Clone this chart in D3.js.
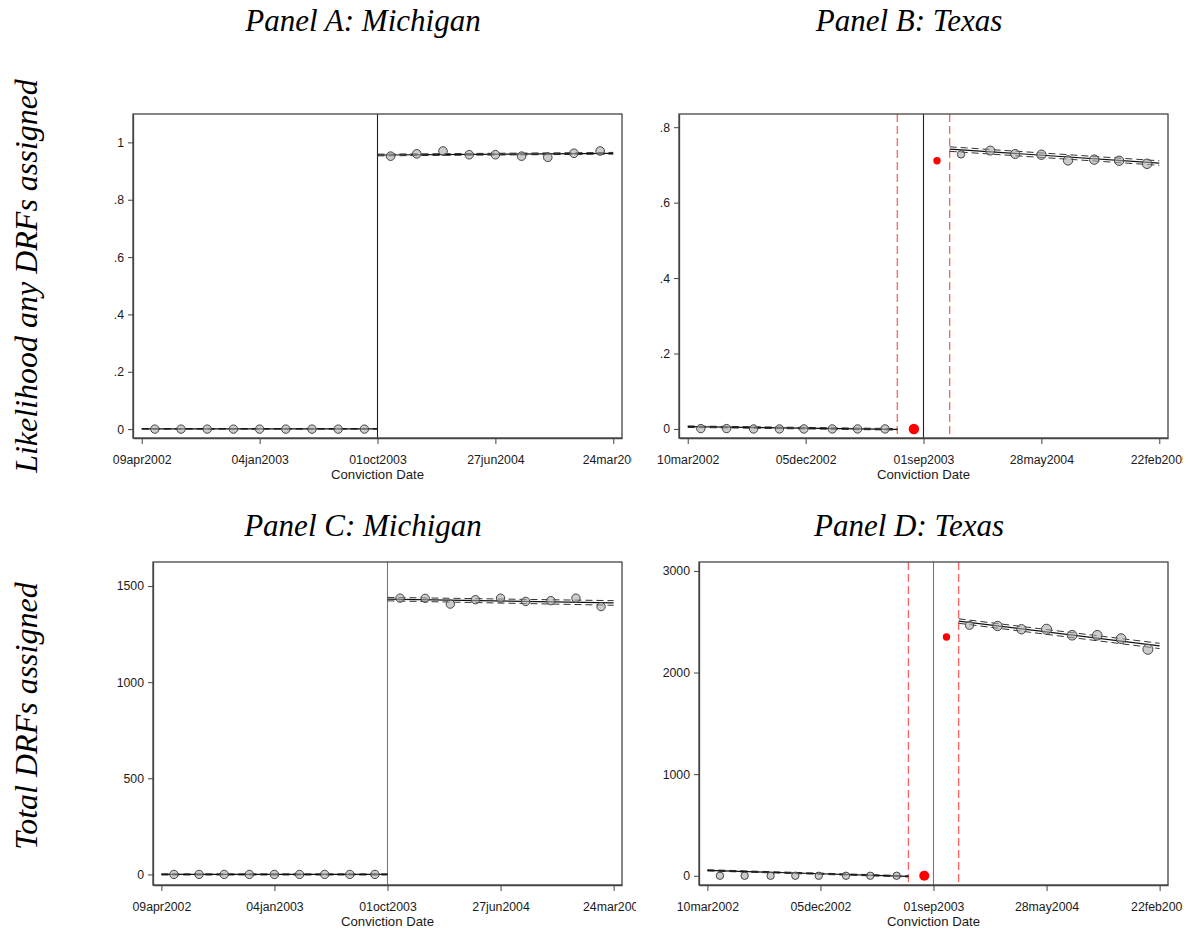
<!DOCTYPE html>
<html>
<head>
<meta charset="utf-8">
<script src="https://cdn.jsdelivr.net/npm/d3@7/dist/d3.min.js"></script>
<style>
  body { margin: 0; background: #fff; }
  .ttl { font-family: "Liberation Serif", "Times New Roman", serif; font-style: italic; font-size: 31px; fill: #000; }
  .rowttl { font-size: 32px; }
</style>
</head>
<body>
<svg id="chart" width="1193" height="929"></svg>
<script>
// x is days relative to the cutoff date, bins are 60 days wide
var tickDays = [-540, -270, 0, 270, 540];
var michiganTicks = ["09apr2002", "04jan2003", "01oct2003", "27jun2004", "24mar2005"];
var texasTicks = ["10mar2002", "05dec2002", "01sep2003", "28may2004", "22feb2005"];

var miPreX = [-510, -450, -390, -330, -270, -210, -150, -90, -30];
var miPostX = [30, 90, 150, 210, 270, 330, 390, 450, 510];
var txPreX = [-510, -451, -389, -330, -274, -209, -151, -88];
var txDonutX = [-22, 31];
var txPostX = [86, 153, 210, 270, 331, 391, 448, 512];

// Panel A
var aPreY = [0, 0, 0, 0, 0, 0, 0, 0, 0];
var aPostY = [0.952, 0.960, 0.970, 0.957, 0.957, 0.952, 0.948, 0.962, 0.970];
var aPreN = [36, 36, 36, 36, 36, 36, 36, 36, 36];
var aPostN = [38, 38, 38, 38, 38, 38, 38, 38, 38];
// rows: [day, fit, lower, upper]
var aPreFit = [[-540, 0.001, 0.000, 0.002], [0, 0.001, 0.000, 0.002]];
var aPostFit = [[0, 0.956, 0.953, 0.959], [540, 0.962, 0.959, 0.965]];

// Panel B
var bPreY = [0.001, 0.001, 0, 0, 0, 0, 0, 0];
var bDonutY = [0, 0.711];
var bPostY = [0.728, 0.738, 0.729, 0.727, 0.712, 0.714, 0.711, 0.703];
var bPreN = [36, 36, 36, 36, 36, 36, 36, 36];
var bDonutN = [56, 28];
var bPostN = [28, 42, 42, 45, 45, 45, 45, 46];
var bPreFit = [[-540, 0.006, 0.004, 0.008], [-60, -0.001, -0.003, 0.001]];
var bPostFit = [[60, 0.742, 0.736, 0.748], [540, 0.705, 0.699, 0.711]];

// Panel C
var cPreY = [0, 0, 0, 0, 0, 0, 0, 0, 0];
var cPostY = [1437, 1436, 1406, 1429, 1437, 1420, 1424, 1437, 1393];
var cPreN = [36, 36, 36, 36, 36, 36, 36, 36, 36];
var cPostN = [36, 36, 36, 36, 36, 36, 36, 36, 36];
var cPreFit = [[-540, 0, -3, 3], [0, 0, -3, 3]];
var cPostFit = [[0, 1432, 1423, 1441], [540, 1412, 1400, 1424]];

// Panel D
var dPreY = [0, 0, 0, 0, 0, 0, 0, 0];
var dDonutY = [0, 2350];
var dPostY = [2465, 2458, 2426, 2426, 2367, 2367, 2334, 2229];
var dPreN = [28, 28, 28, 28, 28, 28, 28, 28];
var dDonutN = [52, 28];
var dPostN = [33, 45, 45, 52, 48, 48, 48, 52];
var dPreFit = [[-540, 53, 47, 59], [-60, -6, -12, 0]];
var dPostFit = [[60, 2507, 2485, 2529], [540, 2262, 2236, 2288]];

var svg = d3.select("#chart");
var defs = svg.append("defs");
var rScale = d3.scaleSqrt().domain([0, 60]).range([0, 5.4]);
var sans = "'Liberation Sans', Arial, sans-serif";

function fracFmt(d) {
  return d === 0 ? "0" : String(d).replace(/^0/, "");
}

function zip(xs, ys, ns) {
  return xs.map(function(x, i) { return {x: x, y: ys[i], n: ns[i]}; });
}

function drawPanel(p) {
  defs.append("clipPath").attr("id", p.id)
    .append("rect").attr("x", p.clip[0]).attr("y", 0)
    .attr("width", p.clip[1] - p.clip[0]).attr("height", 929);

  var g = svg.append("g").attr("clip-path", "url(#" + p.id + ")");

  var x = d3.scaleLinear().domain([-560, 560]).range([p.left, p.right]);
  var y = d3.scaleLinear().domain(p.yDomain).range([p.bottom, p.top]);

  // cutoff + donut bounds
  g.append("line")
    .attr("x1", x(0)).attr("x2", x(0)).attr("y1", p.top).attr("y2", p.bottom)
    .attr("stroke", p.cutColor).attr("stroke-width", 1.1);
  if (p.donut) {
    [-60, 60].forEach(function(d) {
      g.append("line")
        .attr("x1", x(d)).attr("x2", x(d)).attr("y1", p.top).attr("y2", p.bottom)
        .attr("stroke", "#ff4848").attr("stroke-width", 1.3)
        .attr("stroke-dasharray", "8,4").attr("stroke-opacity", 0.85);
    });
  }

  // fitted lines with CI
  var fitLine = function(k) {
    return d3.line().x(function(r) { return x(r[0]); }).y(function(r) { return y(r[k]); });
  };
  [p.preFit, p.postFit].forEach(function(rows) {
    [2, 3].forEach(function(k) {
      g.append("path").attr("d", fitLine(k)(rows))
        .attr("fill", "none").attr("stroke", "#333").attr("stroke-width", 1)
        .attr("stroke-dasharray", "7,4");
    });
    g.append("path").attr("d", fitLine(1)(rows))
      .attr("fill", "none").attr("stroke", "#111").attr("stroke-width", 1.2);
  });

  // binned means
  var pts = zip(p.preX, p.preY, p.preN).concat(zip(p.postX, p.postY, p.postN));
  g.selectAll(".pt").data(pts).enter().append("circle")
    .attr("class", "pt")
    .attr("cx", function(d) { return x(d.x); })
    .attr("cy", function(d) { return y(d.y); })
    .attr("r", function(d) { return rScale(d.n); })
    .attr("fill", "#aaaaaa").attr("fill-opacity", 0.6)
    .attr("stroke", "#444").attr("stroke-width", 1);

  if (p.donut) {
    g.selectAll(".dn").data(zip(txDonutX, p.donutY, p.donutN)).enter().append("circle")
      .attr("class", "dn")
      .attr("cx", function(d) { return x(d.x); })
      .attr("cy", function(d) { return y(d.y); })
      .attr("r", function(d) { return rScale(d.n); })
      .attr("fill", "#ff0000");
  }

  // frame
  g.append("rect")
    .attr("x", p.left).attr("y", p.top)
    .attr("width", p.right - p.left).attr("height", p.bottom - p.top)
    .attr("fill", "none").attr("stroke", "#444").attr("stroke-width", 1.3);

  var yAxis = d3.axisLeft(y).tickValues(p.yTicks).tickFormat(p.yFormat)
    .tickSize(5).tickSizeOuter(0).tickPadding(4);
  var ya = g.append("g").attr("transform", "translate(" + p.left + ",0)").call(yAxis);

  var xAxis = d3.axisBottom(x).tickValues(tickDays)
    .tickFormat(function(d, i) { return p.xLabels[i]; })
    .tickSize(6).tickSizeOuter(0).tickPadding(11);
  var xa = g.append("g").attr("transform", "translate(0," + p.bottom + ")").call(xAxis);

  [ya, xa].forEach(function(a) {
    a.attr("font-family", sans).attr("font-size", 12.3);
    a.select(".domain").attr("stroke", "#444").attr("stroke-width", 1.3);
    a.selectAll(".tick line").attr("stroke", "#444");
    a.selectAll(".tick text").attr("fill", "#1a1a1a");
  });

  g.append("text")
    .attr("x", (p.left + p.right) / 2).attr("y", p.bottom + 40.5)
    .attr("font-family", sans).attr("font-size", 13.2).attr("fill", "#1a1a1a")
    .attr("text-anchor", "middle").text("Conviction Date");

  svg.append("text").attr("class", "ttl")
    .attr("x", p.titleX).attr("y", p.titleY)
    .attr("text-anchor", "middle").text(p.title);
}

drawPanel({
  id: "clipA", title: "Panel A: Michigan", titleX: 363, titleY: 31,
  left: 133, right: 622, top: 114, bottom: 438, clip: [0, 632],
  yDomain: [-0.031, 1.099], yTicks: [0, 0.2, 0.4, 0.6, 0.8, 1], yFormat: fracFmt,
  xLabels: michiganTicks, cutColor: "#222", donut: false,
  preX: miPreX, preY: aPreY, preN: aPreN, postX: miPostX, postY: aPostY, postN: aPostN,
  preFit: aPreFit, postFit: aPostFit
});

drawPanel({
  id: "clipB", title: "Panel B: Texas", titleX: 909, titleY: 31,
  left: 679, right: 1168, top: 114, bottom: 438, clip: [640, 1183],
  yDomain: [-0.024, 0.835], yTicks: [0, 0.2, 0.4, 0.6, 0.8], yFormat: fracFmt,
  xLabels: texasTicks, cutColor: "#222", donut: true,
  preX: txPreX, preY: bPreY, preN: bPreN, postX: txPostX, postY: bPostY, postN: bPostN,
  donutY: bDonutY, donutN: bDonutN,
  preFit: bPreFit, postFit: bPostFit
});

drawPanel({
  id: "clipC", title: "Panel C: Michigan", titleX: 363, titleY: 536,
  left: 153, right: 622, top: 562, bottom: 885, clip: [0, 636],
  yDomain: [-55, 1625], yTicks: [0, 500, 1000, 1500], yFormat: d3.format("d"),
  xLabels: michiganTicks, cutColor: "#777", donut: false,
  preX: miPreX, preY: cPreY, preN: cPreN, postX: miPostX, postY: cPostY, postN: cPostN,
  preFit: cPreFit, postFit: cPostFit
});

drawPanel({
  id: "clipD", title: "Panel D: Texas", titleX: 909, titleY: 536,
  left: 699, right: 1168, top: 562, bottom: 885, clip: [640, 1183],
  yDomain: [-91, 3088], yTicks: [0, 1000, 2000, 3000], yFormat: d3.format("d"),
  xLabels: texasTicks, cutColor: "#777", donut: true,
  preX: txPreX, preY: dPreY, preN: dPreN, postX: txPostX, postY: dPostY, postN: dPostN,
  donutY: dDonutY, donutN: dDonutN,
  preFit: dPreFit, postFit: dPostFit
});

// row titles
[["Likelihood any DRFs assigned", 276], ["Total DRFs assigned", 716]].forEach(function(t) {
  svg.append("text").attr("class", "ttl rowttl")
    .attr("transform", "translate(37," + t[1] + ") rotate(-90)")
    .attr("text-anchor", "middle").text(t[0]);
});
</script>
</body>
</html>
